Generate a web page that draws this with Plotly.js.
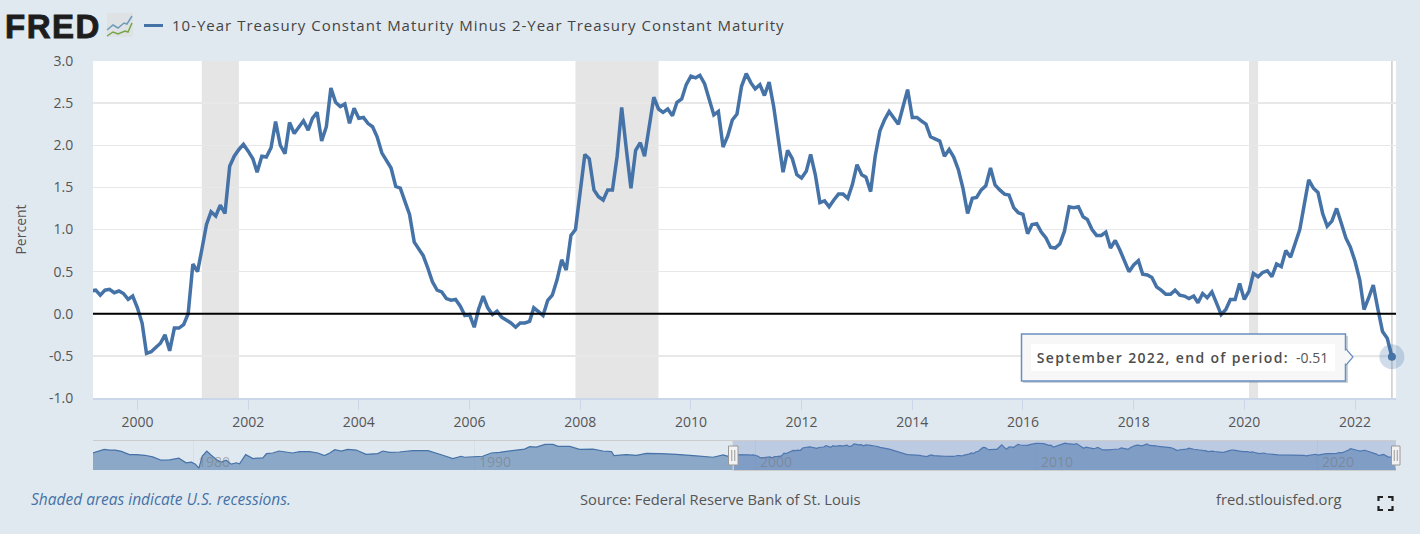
<!DOCTYPE html>
<html>
<head>
<meta charset="utf-8">
<script src="https://cdn.plot.ly/plotly-3.0.1.min.js"></script>
<style>html,body{margin:0;padding:0;background:#e1e9f0;overflow:hidden}#chart{width:1420px;height:534px}</style>
</head>
<body>
<div id="chart"></div>
<script>
const seriesName = '10-Year Treasury Constant Maturity Minus 2-Year Treasury Constant Maturity';
const firstMonth = [1999, 3];
const spreadValues = [
  .27,.28,.22,.28,.29,.25,.27,.24,.17,.21,
  .07,-.11,-.47,-.45,-.40,-.35,-.25,-.44,-.17,-.17,-.13,0,
  .59,.50,.76,1.06,1.21,1.16,1.29,1.19,1.75,1.87,1.95,2.01,
  1.93,1.84,1.68,1.87,1.86,1.97,2.28,2.0,1.90,2.27,2.14,2.22,
  2.29,2.18,2.32,2.39,2.05,2.22,2.68,2.51,2.46,2.49,2.26,2.44,
  2.32,2.33,2.26,2.22,2.10,1.91,1.83,1.73,1.51,1.49,1.33,1.18,
  .85,.77,.69,.54,.38,.28,.26,.18,.16,.17,.09,-.02,
  -.01,-.16,.05,.21,.07,-.01,.03,-.04,-.07,-.11,-.16,-.11,
  -.11,-.09,.07,.03,-.02,.16,.22,.40,.64,.52,.93,1.0,
  1.49,1.89,1.84,1.47,1.39,1.35,1.47,1.47,1.87,2.45,1.95,1.49,
  1.94,2.03,1.87,2.26,2.57,2.43,2.39,2.43,2.35,2.51,2.55,2.72,
  2.82,2.80,2.83,2.73,2.56,2.36,2.40,1.98,2.11,2.30,2.37,2.70,
  2.85,2.74,2.67,2.72,2.59,2.75,2.46,2.03,1.68,1.94,1.84,1.65,
  1.61,1.69,1.89,1.65,1.32,1.34,1.27,1.35,1.42,1.42,1.37,1.53,
  1.77,1.65,1.62,1.45,1.87,2.17,2.30,2.40,2.32,2.25,2.46,2.66,
  2.33,2.33,2.29,2.25,2.10,2.07,2.05,1.87,1.95,1.86,1.71,1.49,
  1.19,1.37,1.38,1.47,1.52,1.73,1.53,1.47,1.42,1.41,1.26,1.20,
  1.18,.95,1.06,1.07,.97,.90,.79,.78,.83,.98,1.27,1.26,
  1.27,1.15,1.12,1.0,.93,.93,.97,.78,.87,.76,.62,.50,
  .58,.63,.47,.46,.43,.32,.28,.23,.23,.28,.22,.21,
  .18,.21,.13,.24,.19,.26,.13,-.01,.05,.17,.17,.36,
  .17,.27,.48,.44,.49,.51,.44,.59,.56,.75,.67,.82,
  1.0,1.31,1.59,1.49,1.44,1.19,1.04,1.10,1.25,1.08,.90,.79,
  .62,.40,.05,.19,.34,.05,-.21,-.29,-.51
];
const historyYears = [1976.41,1976.59,1976.83,1977.01,1977.22,1977.43,1977.72,1977.96,1978.26,1978.55,1978.85,1979.15,1979.48,1979.74,1979.92,1980.07,1980.19,1980.31,1980.47,1980.63,1980.81,1980.99,1981.16,1981.34,1981.52,1981.64,1981.85,1982.11,1982.47,1982.59,1982.82,1983.04,1983.30,1983.53,1983.77,1984.13,1984.42,1984.66,1984.84,1985.02,1985.25,1985.49,1985.79,1986.14,1986.56,1986.74,1986.97,1987.33,1987.80,1988.34,1988.87,1989.23,1989.52,1989.64,1990.29,1990.59,1990.89,1991.25,1991.78,1991.96,1992.20,1992.50,1992.79,1992.97,1993.39,1993.74,1994.22,1994.57,1994.87,1994.96,1995.40,1995.76,1996.11,1996.59,1997.18,1997.89,1998.49,1998.84,1999.02];
const historyValues = [.64,1.08,1.45,1.30,1.30,1.01,.28,.28,.13,-.23,-.97,-.89,-.53,-1.55,-1.41,-1.85,-2.73,-.09,1.08,.13,-.82,-1.41,-.97,-1.85,-1.55,-1.77,.28,-.60,-.45,.50,.64,1.08,.79,.64,.94,.94,.64,.06,.64,1.38,1.08,1.45,1.30,.35,.50,1.08,.79,.86,1.16,1.16,.13,-.60,-.09,-.31,-.09,.64,.79,1.08,1.52,2.04,1.96,2.55,2.55,2.11,2.11,1.45,1.52,1.08,.94,.06,.28,.13,.57,.50,.35,-.01,-.31,.20,-.09];
const recessions = [['2001-03-01','2001-11-01'],['2007-12-01','2009-06-01'],['2020-02-01','2020-04-01']];
const yTickValues = [-1,-0.5,0,0.5,1,1.5,2,2.5,3];
const yTickLabels = ['-1.0','-0.5','0.0','0.5','1.0','1.5','2.0','2.5','3.0'];
const navLabelYears = ['1980','1990','2000','2010','2020'];
const tooltipLabel = 'September 2022, end of period:';
const tooltipValue = '-0.51';

const W = 1420, H = 534;
const px = v => v / W, py = v => 1 - v / H;
const LINE = '#4572a7', PAGE = '#e1e9f0', TXT = '#555555';
const FONT = '"Open Sans", sans-serif';
const pad = n => String(n).padStart(2, '0');
const dates = spreadValues.map((_, i) => {
  const m = firstMonth[1] - 1 + i;
  return (firstMonth[0] + Math.floor(m / 12)) + '-' + pad(m % 12 + 1) + '-01';
});
const yearToDate = y => {
  const yr = Math.floor(y), m = Math.min(11, Math.floor((y - yr) * 12));
  return yr + '-' + pad(m + 1) + '-' + pad(1 + Math.floor(((y - yr) * 12 - m) * 27));
};
const navDates = historyYears.map(yearToDate).concat(dates);
const navValues = historyValues.concat(spreadValues);
const lastDate = dates[dates.length - 1], lastValue = spreadValues[spreadValues.length - 1];

const mainRange = ['1999-03-14', '2022-09-28'];
const navRange = ['1976-06-01', '2022-10-12'];
const navYMin = -3.16, navYMax = 3.32;

const traces = [
  {x: [navRange[0], navRange[1]], y: [navYMin, navYMin], xaxis: 'x2', yaxis: 'y2', mode: 'lines', line: {width: 0}, hoverinfo: 'skip', showlegend: false},
  {x: navDates, y: navValues, xaxis: 'x2', yaxis: 'y2', mode: 'lines', line: {color: LINE, width: 1.2}, fill: 'tonexty', fillcolor: 'rgba(69,114,167,0.55)', hoverinfo: 'skip', showlegend: false},
  {x: dates, y: spreadValues, name: seriesName, mode: 'lines', line: {color: LINE, width: 3.5}, showlegend: false},
  {x: [lastDate], y: [lastValue], mode: 'markers', cliponaxis: false, marker: {size: 25, color: 'rgba(69,114,167,0.25)'}, hoverinfo: 'skip', showlegend: false},
  {x: [lastDate], y: [lastValue], mode: 'markers', cliponaxis: false, marker: {size: 8, color: LINE}, hoverinfo: 'skip', showlegend: false}
];

const pathOf = pts => pts.map((p, i) => (i ? 'L' : 'M') + px(p[0]) + ',' + py(p[1])).join(' ');
const paperShape = o => Object.assign({xref: 'paper', yref: 'paper'}, o);
const rectPx = (x0, y0, x1, y1, o) => paperShape(Object.assign({type: 'rect', x0: px(x0), x1: px(x1), y0: py(y0), y1: py(y1)}, o));
const pathPx = (pts, o) => paperShape(Object.assign({type: 'path', path: pathOf(pts)}, o));
const noLine = {width: 0};

const shapes = [
  rectPx(93, 61, 1396, 398, {layer: 'below', fillcolor: '#ffffff', line: noLine}),
  ...recessions.map(r => ({type: 'rect', xref: 'x', yref: 'paper', x0: r[0], x1: r[1], y0: py(398), y1: py(61), layer: 'below', fillcolor: '#e5e5e5', line: noLine})),
  {type: 'line', xref: 'x', yref: 'y', x0: lastDate, x1: lastDate, y0: -1, y1: 3, layer: 'below', line: {color: '#cccccc', width: 1.5}},
  {type: 'line', xref: 'x', yref: 'y', x0: '2022-01-01', x1: mainRange[1], y0: lastValue, y1: lastValue, layer: 'below', line: {color: '#dddddd', width: 1}},
  {type: 'line', xref: 'x', yref: 'y', x0: mainRange[0], x1: mainRange[1], y0: 0, y1: 0, layer: 'above', line: {color: '#000000', width: 2.2}},
  // navigator frame and selection
  {type: 'line', xref: 'paper', yref: 'paper', x0: px(93), x1: px(1396), y0: py(440.5), y1: py(440.5), layer: 'above', line: {color: '#cccccc', width: 1}},
  {type: 'rect', xref: 'x2', yref: 'paper', x0: '1999-03-14', x1: navRange[1], y0: py(470), y1: py(441), layer: 'above', fillcolor: 'rgba(102,133,194,0.3)', line: noLine},
  {type: 'line', xref: 'x2', yref: 'paper', x0: '1999-03-14', x1: navRange[1], y0: py(470.5), y1: py(470.5), layer: 'above', line: {color: '#cccccc', width: 1}},
  {type: 'line', xref: 'x2', yref: 'paper', x0: '1999-03-14', x1: '1999-03-14', y0: py(470.5), y1: py(440.5), layer: 'above', line: {color: '#cccccc', width: 1.5}},
  // navigator handles
  ...[[728.5, 738], [1391.5, 1400]].flatMap(h => [
    rectPx(h[0], 446, h[1], 465, {layer: 'above', fillcolor: '#f2f2f2', line: {color: '#999999', width: 1}}),
    paperShape({type: 'line', x0: px((h[0] + h[1]) / 2 - 1.5), x1: px((h[0] + h[1]) / 2 - 1.5), y0: py(450), y1: py(461), layer: 'above', line: {color: '#999999', width: 1}}),
    paperShape({type: 'line', x0: px((h[0] + h[1]) / 2 + 1.5), x1: px((h[0] + h[1]) / 2 + 1.5), y0: py(450), y1: py(461), layer: 'above', line: {color: '#999999', width: 1}})
  ]),
  // header line sample
  paperShape({type: 'line', x0: px(144), x1: px(163), y0: py(25.5), y1: py(25.5), line: {color: LINE, width: 3}}),
  // logo
  rectPx(107, 13, 133, 37, {fillcolor: '#dfe2e4', line: noLine}),
  pathPx([[107, 30], [113, 25], [118, 28], [124, 23], [127, 24], [132, 16]], {line: {color: '#6f9cb8', width: 1.5}}),
  pathPx([[107, 36], [113, 32], [118, 34], [125, 31], [128, 32], [132, 23]], {line: {color: '#75a548', width: 1.5}}),
  // tooltip
  rectPx(1023, 336, 1348, 383, {layer: 'above', fillcolor: 'rgba(90,110,140,0.30)', line: noLine}),
  pathPx([[1346, 349], [1353, 357], [1346, 365]], {layer: 'above', fillcolor: '#f7f7f7', line: {color: '#6a8fbe', width: 1.2}}),
  rectPx(1021.5, 334, 1345.5, 381, {layer: 'above', fillcolor: '#f7f7f7', line: {color: '#6a8fbe', width: 1.5}}),
  rectPx(1343, 350.5, 1347, 363.5, {layer: 'above', fillcolor: '#f7f7f7', line: noLine}),
  rectPx(1031, 344, 1335, 371, {layer: 'above', fillcolor: '#ffffff', line: noLine}),
  // fullscreen icon
  ...[
    [[1378.5, 501], [1378.5, 497], [1383, 497]], [[1388, 497], [1392.5, 497], [1392.5, 501]],
    [[1378.5, 506], [1378.5, 510], [1383, 510]], [[1388, 510], [1392.5, 510], [1392.5, 506]]
  ].map(p => pathPx(p, {line: {color: '#222222', width: 2.2}}))
];

const note = (text, x, y, anchor, size, color, extra) => Object.assign({
  text, xref: 'paper', yref: 'paper', x: px(x), y: py(y), xanchor: anchor, yanchor: 'middle', showarrow: false,
  font: {family: FONT, size, color}
}, extra || {});

const annotations = [
  note('FRED', 52.5, 26, 'center', 33, '#1d1d1d', {font: {family: '"Liberation Sans", sans-serif', size: 33, color: '#1d1d1d', weight: 700}}),
  note(seriesName, 478.5, 25.5, 'center', 15, '#444444'),
  note('Shaded areas indicate U.S. recessions.', 29, 499, 'left', 15.5, LINE, {font: {family: FONT, size: 15.5, color: LINE, style: 'italic'}}),
  note('Source: Federal Reserve Bank of St. Louis', 578, 499, 'left', 14.7, TXT),
  note('fred.stlouisfed.org', 1343, 499, 'right', 14.7, TXT),
  note(tooltipLabel, 1163, 357.5, 'center', 14, '#4d4d4d', {font: {family: FONT, size: 14, color: '#4d4d4d', weight: 600}}),
  note(tooltipValue, 1330, 357.5, 'right', 14, '#555555'),
  ...navLabelYears.map(y => ({
    text: y, xref: 'x2', yref: 'paper', x: y + '-01-01', y: py(461), xanchor: 'left', yanchor: 'middle', xshift: 2, showarrow: false,
    font: {family: FONT, size: 14, color: 'rgba(120,120,120,0.55)'}
  }))
];

const layout = {
  width: W, height: H, autosize: false,
  margin: {l: 0, r: 0, t: 0, b: 0},
  paper_bgcolor: PAGE, plot_bgcolor: 'rgba(0,0,0,0)',
  showlegend: false, hovermode: false,
  font: {family: FONT, color: TXT, size: 14},
  xaxis: {
    type: 'date', domain: [px(93), px(1396)], range: mainRange, anchor: 'y',
    tick0: '2000-01-01', dtick: 'M24', tickformat: '%Y', ticks: 'outside', ticklen: 10, tickwidth: 1, tickcolor: '#ccd6eb',
    tickfont: {family: FONT, size: 14, color: TXT}, showgrid: false, zeroline: false,
    showline: true, linecolor: '#ccd6eb', linewidth: 2
  },
  yaxis: {
    domain: [py(398), py(61)], range: [-1, 3], anchor: 'x', tickmode: 'array', tickvals: yTickValues, ticktext: yTickLabels,
    ticks: 'outside', ticklen: 16, tickcolor: 'rgba(0,0,0,0)', tickfont: {family: FONT, size: 14, color: TXT},
    showgrid: true, gridcolor: '#e8e8e8', gridwidth: 1.5, zeroline: false, showline: false,
    title: {text: 'Percent', font: {family: FONT, size: 14, color: TXT}, standoff: 19}
  },
  xaxis2: {
    type: 'date', domain: [px(93), px(1396)], range: navRange, anchor: 'y2',
    tick0: '1980-01-01', dtick: 'M120', showticklabels: false, ticks: '', showgrid: true, gridcolor: '#d8dfe7', gridwidth: 1, zeroline: false, showline: false
  },
  yaxis2: {
    domain: [py(470), py(441)], range: [navYMin, navYMax], anchor: 'x2', showticklabels: false, ticks: '', showgrid: false, zeroline: false, showline: false
  },
  shapes, annotations
};

Plotly.newPlot('chart', traces, layout, {displayModeBar: false, staticPlot: true}).then(() => {
  const texts = document.querySelectorAll('.annotation-text');
  const spacing = {0: '1.5px', 1: '1px', 5: '1.35px'};
  Object.keys(spacing).forEach(i => { if (texts[i]) texts[i].style.letterSpacing = spacing[i]; });
  if (texts[0]) { texts[0].style.stroke = '#1d1d1d'; texts[0].style.strokeWidth = '0.9px'; }
});
</script>
</body>
</html>
